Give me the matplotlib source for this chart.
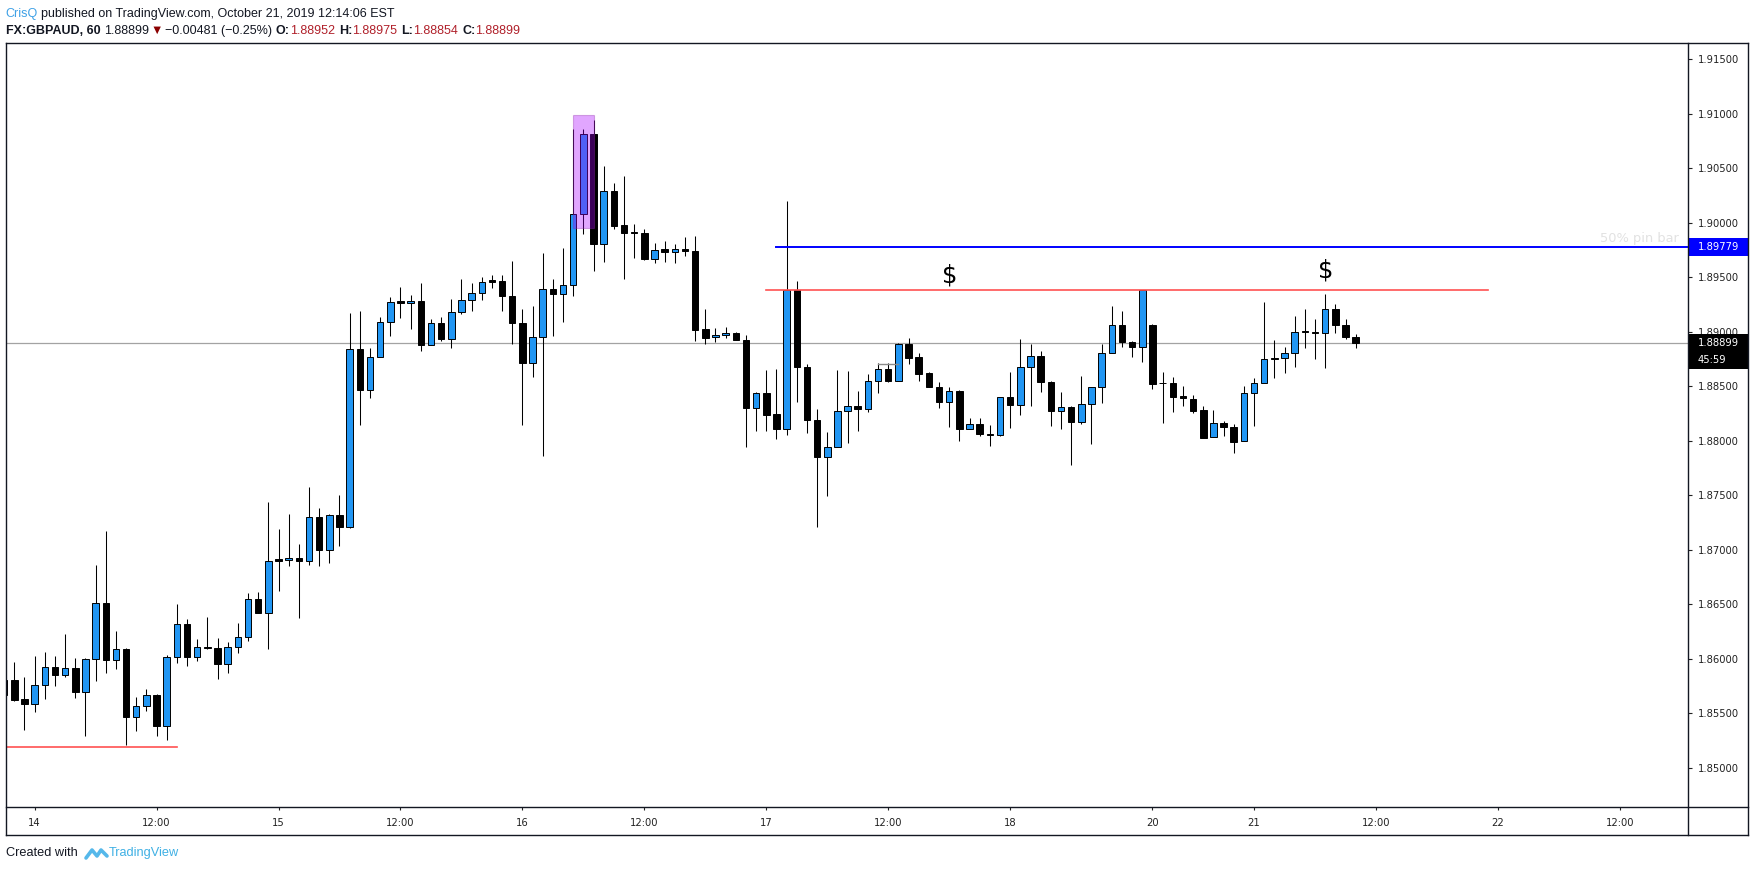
# GBPAUD 1h candles, TradingView style snapshot
import numpy as np
import matplotlib
matplotlib.use("Agg")
import matplotlib.pyplot as plt
import matplotlib.transforms as mtransforms
from matplotlib.patches import Rectangle
from matplotlib.lines import Line2D

# ---- data ----
opens = [1.85805, 1.85802, 1.85630, 1.85587, 1.85762, 1.85927, 1.85853, 1.85918, 1.85698, 1.86000,
         1.86514, 1.85991, 1.86092, 1.85468, 1.85569, 1.85670, 1.85386, 1.86019, 1.86321, 1.86019,
         1.86110, 1.86098, 1.85954, 1.86110, 1.86202, 1.86551, 1.86422, 1.86915, 1.86905, 1.86927,
         1.86900, 1.87303, 1.86997, 1.87315, 1.87211, 1.88844, 1.88465, 1.88765, 1.89086, 1.89279,
         1.89260, 1.89279, 1.88881, 1.89083, 1.88936, 1.89178, 1.89294, 1.89352, 1.89471, 1.89468,
         1.89331, 1.89083, 1.88716, 1.88954, 1.89389, 1.89349, 1.89425, 1.90077, 1.90811, 1.89801,
         1.90291, 1.89976, 1.89912, 1.89902, 1.89670, 1.89756, 1.89728, 1.89756, 1.89740, 1.89022,
         1.88948, 1.88967, 1.88985, 1.88927, 1.88303, 1.88434, 1.88242, 1.88104, 1.89385, 1.88679,
         1.88187, 1.87853, 1.87945, 1.88272, 1.88315, 1.88288, 1.88545, 1.88655, 1.88551, 1.88884,
         1.88765, 1.88618, 1.88496, 1.88358, 1.88459, 1.88104, 1.88150, 1.88058, 1.88049, 1.88398,
         1.88331, 1.88679, 1.88780, 1.88542, 1.88276, 1.88312, 1.88175, 1.88334, 1.88490, 1.88808,
         1.89065, 1.88902, 1.88857, 1.89058, 1.88532, 1.88532, 1.88407, 1.88386, 1.88279, 1.88031,
         1.88159, 1.88123, 1.87994, 1.88441, 1.88532, 1.88756, 1.88756, 1.88808, 1.89003, 1.88994,
         1.88985, 1.89211, 1.89058, 1.88952]
highs = [1.85850, 1.85970, 1.85829, 1.86025, 1.86061, 1.86022, 1.86224, 1.86009, 1.86009, 1.86856,
         1.87171, 1.86251, 1.86101, 1.85646, 1.85719, 1.85679, 1.86031, 1.86499, 1.86361, 1.86178,
         1.86379, 1.86187, 1.86150, 1.86324, 1.86600, 1.86609, 1.87435, 1.87187, 1.87324, 1.87049,
         1.87578, 1.87380, 1.87328, 1.87499, 1.89168, 1.89187, 1.88847, 1.89132, 1.89315, 1.89407,
         1.89334, 1.89444, 1.89120, 1.89132, 1.89297, 1.89480, 1.89444, 1.89499, 1.89517, 1.89517,
         1.89645, 1.89205, 1.89236, 1.89719, 1.89480, 1.89768, 1.90857, 1.90857, 1.90942, 1.90520,
         1.90367, 1.90430, 1.89985, 1.89939, 1.89811, 1.89835, 1.89805, 1.89872, 1.89878, 1.89208,
         1.89031, 1.89043, 1.89000, 1.88970, 1.88447, 1.88649, 1.88658, 1.90199, 1.89465, 1.88701,
         1.88288, 1.88077, 1.88649, 1.88639, 1.88453, 1.88615, 1.88710, 1.88716, 1.88893, 1.88939,
         1.88801, 1.88633, 1.88538, 1.88493, 1.88462, 1.88205, 1.88205, 1.88144, 1.88398, 1.88627,
         1.88933, 1.88884, 1.88820, 1.88551, 1.88444, 1.88321, 1.88594, 1.88496, 1.88884, 1.89236,
         1.89190, 1.88918, 1.89385, 1.89068, 1.88627, 1.88587, 1.88499, 1.88419, 1.88321, 1.88279,
         1.88178, 1.88150, 1.88500, 1.88578, 1.89276, 1.88924, 1.88863, 1.89141, 1.89205, 1.89113,
         1.89346, 1.89251, 1.89113, 1.88975]
lows = [1.85600, 1.85610, 1.85346, 1.85511, 1.85630, 1.85750, 1.85829, 1.85636, 1.85291, 1.85798,
        1.85872, 1.85905, 1.85208, 1.85337, 1.85520, 1.85294, 1.85254, 1.85957, 1.85933, 1.85979,
        1.86090, 1.85814, 1.85872, 1.86049, 1.86165, 1.86416, 1.86092, 1.86620, 1.86850, 1.86370,
        1.86860, 1.86850, 1.86880, 1.87034, 1.87196, 1.88144, 1.88395, 1.88765, 1.88961, 1.89129,
        1.89022, 1.88826, 1.88881, 1.88918, 1.88853, 1.89159, 1.89193, 1.89291, 1.89404, 1.89193,
        1.88887, 1.88140, 1.88587, 1.87860, 1.88960, 1.89092, 1.89331, 1.89893, 1.89560, 1.89642,
        1.89942, 1.89486, 1.89679, 1.89658, 1.89627, 1.89636, 1.89627, 1.89691, 1.88918, 1.88890,
        1.88908, 1.88938, 1.88927, 1.87939, 1.88092, 1.88092, 1.88012, 1.88055, 1.88358, 1.88068,
        1.87211, 1.87496, 1.87945, 1.87976, 1.88092, 1.88260, 1.88434, 1.88535, 1.88551, 1.88701,
        1.88551, 1.88496, 1.88303, 1.88129, 1.88000, 1.88104, 1.88045, 1.87951, 1.88046, 1.88120,
        1.88236, 1.88321, 1.88447, 1.88135, 1.88107, 1.87777, 1.88156, 1.87967, 1.88343, 1.88808,
        1.88863, 1.88771, 1.88725, 1.88471, 1.88165, 1.88266, 1.88318, 1.88251, 1.88025, 1.88031,
        1.88043, 1.87884, 1.87994, 1.88138, 1.88532, 1.88578, 1.88618, 1.88679, 1.88853, 1.88750,
        1.88664, 1.88985, 1.88933, 1.88854]
closes = [1.85667, 1.85624, 1.85584, 1.85762, 1.85927, 1.85850, 1.85918, 1.85698, 1.86000, 1.86514,
          1.85988, 1.86092, 1.85468, 1.85569, 1.85670, 1.85386, 1.86019, 1.86321, 1.86016, 1.86110,
          1.86098, 1.85954, 1.86110, 1.86202, 1.86551, 1.86422, 1.86895, 1.86900, 1.86927, 1.86900,
          1.87303, 1.86997, 1.87315, 1.87211, 1.88844, 1.88465, 1.88765, 1.89086, 1.89276, 1.89260,
          1.89279, 1.88881, 1.89083, 1.88936, 1.89178, 1.89294, 1.89352, 1.89459, 1.89456, 1.89331,
          1.89083, 1.88716, 1.88954, 1.89389, 1.89349, 1.89425, 1.90077, 1.90811, 1.89801, 1.90291,
          1.89973, 1.89908, 1.89902, 1.89667, 1.89753, 1.89728, 1.89756, 1.89740, 1.89019, 1.88945,
          1.88970, 1.88985, 1.88927, 1.88300, 1.88434, 1.88239, 1.88104, 1.89385, 1.88679, 1.88187,
          1.87853, 1.87945, 1.88272, 1.88315, 1.88288, 1.88545, 1.88655, 1.88551, 1.88884, 1.88762,
          1.88615, 1.88496, 1.88358, 1.88459, 1.88104, 1.88150, 1.88058, 1.88049, 1.88398, 1.88331,
          1.88679, 1.88780, 1.88542, 1.88276, 1.88312, 1.88175, 1.88334, 1.88490, 1.88808, 1.89065,
          1.88902, 1.88857, 1.89385, 1.88523, 1.88526, 1.88404, 1.88389, 1.88272, 1.88025, 1.88159,
          1.88123, 1.87991, 1.88441, 1.88532, 1.88746, 1.88746, 1.88808, 1.89000, 1.88997, 1.88985,
          1.89211, 1.89058, 1.88954, 1.88899]

# bar index where each time label sits
x_tick_bars = [3, 15, 27, 39, 51, 63, 75, 87, 99, 113, 123, 135, 147, 159]
x_tick_labels = ['14', '12:00', '15', '12:00', '16', '12:00', '17', '12:00', '18', '20', '21',
                 '12:00', '22', '12:00']
y_ticks = [1.850, 1.855, 1.860, 1.865, 1.870, 1.875, 1.880, 1.885, 1.890, 1.895, 1.900, 1.905,
           1.910, 1.915]

# drawings
resistance = 1.89385        # red line with the two "$"
support = 1.85193           # red line bottom left
half_pin = 1.89779          # blue "50% pin bar" line
last_price = 1.88899
dollar_bars = [93, 130]
dollar_prices = [1.89520, 1.89566]
pin_box = (56, 58, 1.89948, 1.90988)

W, H = 1755, 872
fig = plt.figure(figsize=(W / 100, H / 100), dpi=100)
fig.patch.set_facecolor('white')

def fx(px):
    return px / W

def fy(py):
    return 1 - py / H

ax = fig.add_axes([fx(6.3), fy(807.3), fx(1688.3) - fx(6.3), fy(43.3) - fy(807.3)])
ax.set_xlim(0.213, 165.73)
ax.set_ylim(1.84637, 1.91646)
for s in ax.spines.values():
    s.set_visible(False)

o = np.array(opens)
h = np.array(highs)
l = np.array(lows)
c = np.array(closes)
idx = np.arange(len(o))
up = c >= o
colors = np.where(up, '#2196f3', '#000000')

ax.vlines(idx, l, h, color='black', lw=0.75, zorder=2)
ax.bar(idx, np.maximum(np.abs(c - o), 0.00007), bottom=np.minimum(o, c), width=0.64,
       color=colors, edgecolor='black', linewidth=0.7, zorder=3)

# lines
ax.axhline(last_price, color='#a3a3a3', lw=0.9, zorder=1)
ax.plot([75, 146], [resistance, resistance], color='#ff5252', lw=1.2, zorder=4)
ax.plot([-3, 17], [support, support], color='#ff5252', lw=1.2, zorder=4)
ax.plot([76, 166], [half_pin, half_pin], color='#0000ff', lw=1.4, zorder=4)
ax.plot([86, 88], [1.88706, 1.88706], color='#8a8a8a', lw=1.0, zorder=4)

ax.add_patch(Rectangle((pin_box[0], pin_box[2]), pin_box[1] - pin_box[0], pin_box[3] - pin_box[2],
                       facecolor='#aa00ff', alpha=0.35, edgecolor='#8e24aa', lw=0.8, zorder=5))

for b, p in zip(dollar_bars, dollar_prices):
    ax.text(b, p, '$', fontsize=17.5, ha='center', va='center', color='black', zorder=6)

ax.text(164.8, 1.89857, '50% pin bar', fontsize=9.4, ha='right', va='center', color='#e2e2e2',
        zorder=6)

# axes ticks
ax.set_xticks(x_tick_bars)
ax.set_xticklabels(x_tick_labels)
ax.yaxis.tick_right()
ax.set_yticks(y_ticks)
ax.set_yticklabels([f'{v:.5f}' for v in y_ticks])
ax.tick_params(axis='x', direction='out', length=2.5, width=0.8, pad=5, labelsize=7.2,
               colors='#222222')
ax.tick_params(axis='y', direction='out', length=2.9, width=0.8, pad=4, labelsize=7.2,
               colors='#222222')

# price labels on the axis
trans = mtransforms.blended_transform_factory(fig.transFigure, ax.transData)
box_h = 17.7 * (1.91646 - 1.84637) / 764.0
def price_box(y, text, face):
    ax.add_patch(Rectangle((fx(1688.3), y - box_h / 2), fx(1748) - fx(1688.3), box_h,
                           transform=trans, facecolor=face, edgecolor='none', clip_on=False,
                           zorder=10))
    ax.text(fx(1697.5), y, text, transform=trans, color='white', fontsize=7.2, ha='left',
            va='center', zorder=11, clip_on=False)

price_box(half_pin, f'{half_pin:.5f}', '#0000ff')
price_box(last_price, f'{last_price:.5f}', '#000000')
price_box(last_price - box_h, '45:59', '#000000')

# frame
def fline(x1, y1, x2, y2, lw=1.0):
    fig.add_artist(Line2D([fx(x1), fx(x2)], [fy(y1), fy(y2)], color='#131722', lw=lw))

fline(6.3, 43.3, 1748, 43.3)
fline(6.3, 835, 1748, 835)
fline(6.3, 43.3, 6.3, 835)
fline(1748, 43.3, 1748, 835)
fline(1688.3, 43.3, 1688.3, 835)
fline(6.3, 807.3, 1748, 807.3)

# header / footer text
fam = ['Liberation Sans', 'DejaVu Sans']
renderer = fig.canvas.get_renderer()
def runs(items, x0, y, fs):
    x = x0
    for txt, col, wt, gap in items:
        t = fig.text(fx(x), fy(y), txt, color=col, fontweight=wt, fontsize=fs, ha='left',
                     va='center', family=fam)
        x += t.get_window_extent(renderer).width + gap

red = '#b0202a'
runs([('CrisQ', '#3fa1e6', 'normal', 3.5),
      ('published on TradingView.com, October 21, 2019 12:14:06 EST', '#131722', 'normal', 0)],
     5.5, 13.5, 9.0)
runs([('FX:GBPAUD, 60', '#131722', 'bold', 4),
      ('1.88899', '#131722', 'normal', 1.5),
      ('\u25bc', '#8b0000', 'normal', 2),
      ('\u22120.00481 (\u22120.25%)', '#131722', 'normal', 4),
      ('O:', '#131722', 'bold', 0), ('1.88952', red, 'normal', 4),
      ('H:', '#131722', 'bold', 0), ('1.88975', red, 'normal', 4),
      ('L:', '#131722', 'bold', 0), ('1.88854', red, 'normal', 4),
      ('C:', '#131722', 'bold', 0), ('1.88899', red, 'normal', 0)],
     5.5, 31, 9.0)

runs([('Created with', '#131722', 'normal', 0)], 6, 853, 9.2)
fig.add_artist(Line2D([fx(p) for p in [86, 92, 97, 101, 107]],
                      [fy(p) for p in [858, 850, 856, 850, 856]],
                      color='#55b8ea', lw=2.6, solid_capstyle='round'))
runs([('TradingView', '#3fb0e4', 'normal', 0)], 109, 853, 9.2)

fig.savefig('out.png', dpi=100)
